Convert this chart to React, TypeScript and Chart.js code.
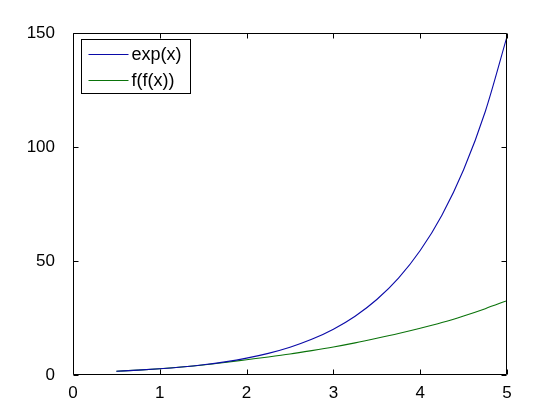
import React, { useEffect, useRef } from "react";
import { Chart, registerables } from "chart.js";

Chart.register(...registerables);

const xValues = [0.5, 0.75, 1, 1.25, 1.5, 1.75, 2, 2.25, 2.5, 2.75, 3, 3.25, 3.5, 3.75, 4, 4.25, 4.5, 4.75, 5];
const expValues = [1.65, 2.12, 2.72, 3.49, 4.48, 5.75, 7.39, 9.49, 12.18, 15.64, 20.09, 25.79, 33.12, 42.52, 54.6, 70.11, 90.02, 115.58, 148.41];
const ffValues = [1.65, 2.15, 2.75, 3.5, 4.4, 5.5, 6.7, 7.9, 9.2, 10.7, 12.3, 14.1, 16.1, 18.2, 20.5, 23.0, 25.9, 29.1, 32.6];
const seriesLabels = ["exp(x)", "f(f(x))"];
const seriesColors = ["#0a0aa8", "#0a730a"];
const xTicks = [0, 1, 2, 3, 4, 5];
const yTicks = [0, 50, 100, 150];

const FONT = "'Liberation Sans', Arial, sans-serif";

const framePlugin = {
  id: "matlabFrame",
  afterDatasetsDraw(chart: any) {
    const { ctx, chartArea } = chart;
    const { left, right, top, bottom } = chartArea;
    const L = Math.round(left) + 0.5;
    const R = Math.round(right) - 0.5;
    const T = Math.round(top) + 0.5;
    const B = Math.round(bottom) - 0.5;
    ctx.save();
    ctx.strokeStyle = "#000";
    ctx.lineWidth = 1;
    ctx.beginPath();
    ctx.rect(L, T, R - L, B - T);
    const xs = chart.scales.x;
    const ys = chart.scales.y;
    const tl = 5;
    xTicks.forEach((v) => {
      const px = Math.round(xs.getPixelForValue(v)) + 0.5;
      ctx.moveTo(px, B);
      ctx.lineTo(px, B - tl);
      ctx.moveTo(px, T);
      ctx.lineTo(px, T + tl);
    });
    yTicks.forEach((v) => {
      const py = Math.round(ys.getPixelForValue(v)) + 0.5;
      ctx.moveTo(L, py);
      ctx.lineTo(L + tl, py);
      ctx.moveTo(R, py);
      ctx.lineTo(R - tl, py);
    });
    ctx.stroke();

    // legend
    const bx = L + 8;
    const by = T + 6;
    const bw = 109;
    const bh = 54;
    ctx.fillStyle = "#fff";
    ctx.fillRect(bx, by, bw, bh);
    ctx.strokeStyle = "#000";
    ctx.strokeRect(bx, by, bw, bh);
    ctx.font = "18px " + FONT;
    ctx.textBaseline = "middle";
    ctx.textAlign = "left";
    seriesLabels.forEach((lab, i) => {
      const ly = Math.round(by + 14 + i * 26) + 0.5;
      ctx.strokeStyle = seriesColors[i];
      ctx.beginPath();
      ctx.moveTo(bx + 7, ly);
      ctx.lineTo(bx + 47, ly);
      ctx.stroke();
      ctx.fillStyle = "#000";
      ctx.fillText(lab, bx + 50, ly + 1);
    });
    ctx.restore();
  },
};

export default function App() {
  const ref = useRef<HTMLCanvasElement | null>(null);
  useEffect(() => {
    document.body.style.margin = "0";
    const canvas = ref.current;
    if (!canvas) return;
    const chart = new Chart(canvas, {
      type: "line",
      data: {
        datasets: [
          {
            label: seriesLabels[0],
            data: xValues.map((x, i) => ({ x, y: expValues[i] })),
            borderColor: seriesColors[0],
            borderWidth: 1.1,
            pointRadius: 0,
            cubicInterpolationMode: "monotone",
            fill: false,
          },
          {
            label: seriesLabels[1],
            data: xValues.map((x, i) => ({ x, y: ffValues[i] })),
            borderColor: seriesColors[1],
            borderWidth: 1.1,
            pointRadius: 0,
            cubicInterpolationMode: "monotone",
            fill: false,
          },
        ],
      },
      options: {
        animation: false,
        responsive: false,
        devicePixelRatio: 1,
        layout: { padding: { left: 0, right: 53, top: 33, bottom: 0 } },
        plugins: {
          legend: { display: false },
          tooltip: { enabled: false },
        },
        scales: {
          x: {
            type: "linear",
            min: 0,
            max: 5,
            afterBuildTicks: (s: any) => {
              s.ticks = xTicks.map((v) => ({ value: v }));
            },
            afterFit: (s: any) => {
              s.height = 45;
            },
            grid: { display: false, drawTicks: false },
            border: { display: false },
            ticks: {
              color: "#000",
              padding: 8,
              maxRotation: 0,
              font: { family: FONT, size: 17 },
            },
          },
          y: {
            type: "linear",
            min: 0,
            max: 150,
            afterBuildTicks: (s: any) => {
              s.ticks = yTicks.map((v) => ({ value: v }));
            },
            afterFit: (s: any) => {
              s.width = 73;
            },
            grid: { display: false, drawTicks: false },
            border: { display: false },
            ticks: {
              color: "#000",
              padding: 18,
              font: { family: FONT, size: 17 },
            },
          },
        },
      },
      plugins: [framePlugin],
    });
    return () => chart.destroy();
  }, []);
  return (
    <div style={{ position: "absolute", left: 0, top: 0, width: 560, height: 420, background: "#fff" }}>
      <canvas ref={ref} width={560} height={420} />
    </div>
  );
}
